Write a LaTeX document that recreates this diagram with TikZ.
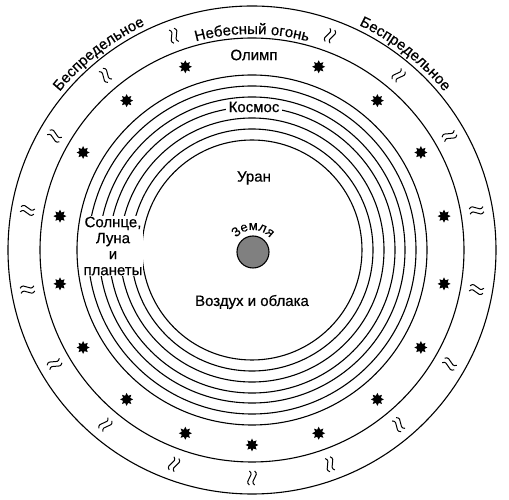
\documentclass[tikz,border=0pt]{standalone}
\usepackage{fontspec}
\setmainfont{Liberation Sans}[FakeBold=0.5]
\usetikzlibrary{decorations.text,shapes.geometric}

\begin{document}
\begin{tikzpicture}[
    x=1pt, y=1pt,
    ring/.style={line width=1.1pt},
    tag/.style={fill=white,inner xsep=3pt,inner ysep=0.5pt,font=\fontsize{15}{16}\selectfont},
    plain/.style={inner sep=0pt,font=\fontsize{15}{16}\selectfont},
    starmark/.style={star,star points=8,star point ratio=1.7,minimum size=13pt,
      inner sep=0pt,fill=black},
    earth/.style={circle,draw,line width=1.1pt,fill=black!50,minimum size=32pt,inner sep=0pt},
    arctext/.style={decorate,decoration={text along path,text align=center,
      text={|\fontsize{15}{16}\selectfont|#1}}},
    flame/.pic={
      \draw[line width=1pt] (-7,2.6) .. controls (-2.5,8.5) and (2.5,-3.3) .. (7,2.6);
      \draw[line width=1pt] (-7,-2.6) .. controls (-2.5,3.3) and (2.5,-8.5) .. (7,-2.6);
    }
  ]
    \useasboundingbox (-252,-250) rectangle (257,250);
    \coordinate (centre) at (0,0);

    % spheres
    \draw[ring] (centre) circle (244);
    \draw[ring] (centre) circle (212);
    \foreach \r in {110,121,132,143,153,164,175}
      \draw[ring] (centre) circle (\r);

    % fire and stars
    \foreach \a [count=\i] in {110,130,...,430} {
      \pic[rotate=\a] at (\a:228) {flame};
      \node[starmark] (star\i) at (\a:195) {};
    }

    % labels
    \path[arctext={Беспредельное}] (160:249) arc (160:96:249);
    \path[arctext={Беспредельное}] (84:249) arc (84:20:249);
    \path[arctext={Небесный огонь}] (130:216) arc (130:50:216);
    \node[plain] (olimp) at (2,195) {Олимп};
    \node[tag] (kosmos) at (2,143) {Космос};
    \node[plain] (uran) at (2,72) {Уран};
    \node[tag,align=center,inner xsep=1pt] (svetila) at (-139,4)
      {Солнце,\\Луна\\и\\планеты};
    \node[plain] (vozduh) at (0,-52) {Воздух и облака};

    \node[earth] (zemlya) at (1,-2) {};
    \path[decorate,decoration={text along path,text align=center,
      text={|\fontsize{13}{14}\selectfont|Земля}}]
      ([shift={(175:22)}]zemlya.center) arc (175:5:22);
\end{tikzpicture}
\end{document}
